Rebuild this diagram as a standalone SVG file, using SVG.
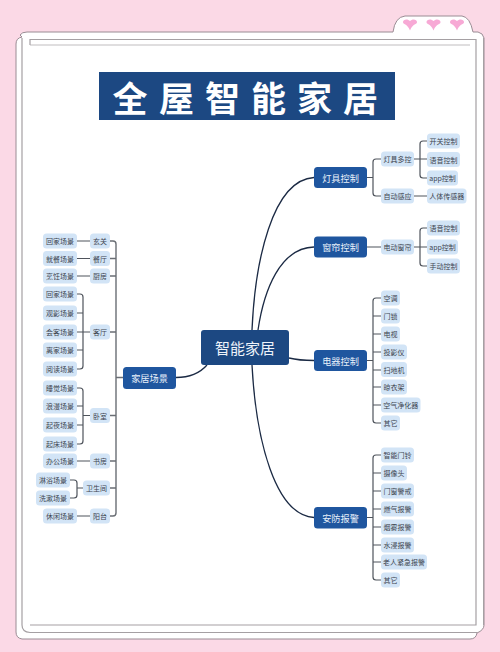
<svg xmlns="http://www.w3.org/2000/svg" width="500" height="652" viewBox="0 0 500 652">
<style>
text{font-family:"Noto Sans CJK SC","Liberation Sans",sans-serif;text-anchor:middle;dominant-baseline:central}
.frame{fill:#fff;stroke:#9a8c94;stroke-width:1}
.inner{fill:none;stroke:#a5a0a3;stroke-width:1.2}
.leaf rect{fill:#d2e4f6}
.leaf text{font-size:7px;fill:#3d4450}
.main rect{fill:#1f569f}
.main text{font-size:9.2px;fill:#e8f0fa}
.curve{fill:none;stroke:#1b2a44;stroke-width:1.3}
.line{fill:none;stroke:#4f545c;stroke-width:1.2;stroke-linecap:round}
.trunk{stroke:#6a6e74;stroke-width:1.4}
.heart{fill:#f7a9d5}
</style>
<defs><path id="h" d="M0 5.5C-3-2-7 0-7-3-7-6-2-6.500 0-4 2-6.500 7-6 7-3 7 0 3-2 0 5.500Z"/></defs>
<rect width="500" height="652" fill="#fbd9e6"/>
<g id="frame">
<path class="frame" d="M20 35Q22 32 27 32H393Q395 17 405 16H462Q470 17 473 32H478Q483 33 484 38V625Q484 630 477 633Q476 639 470 639H22Q16 638 16 632V44Q16 38 22 37Z"/>
<path class="inner" d="M22 38V625Q22 632 30 632.500H477"/>
<rect x="30" y="39.500" width="446" height="85.500" fill="none" stroke="none"/>
<path class="inner" d="M30 45V39.500H476V625H30"/>
<path d="M30 45H470" fill="none" stroke="#b0acae" stroke-width=".8"/>
<path d="M483.500 38V625" fill="none" stroke="#a5a0a3" stroke-width="1"/>
<use href="#h" class="heart" x="410" y="25"/><use href="#h" class="heart" x="433.500" y="25"/><use href="#h" class="heart" x="457" y="25"/>
</g>
<g id="title"><rect x="99" y="72" width="296" height="48" fill="#1c4882"/>
<text y="96" font-size="35" font-weight="700" fill="#fff"><tspan x="130">全</tspan><tspan x="176.500">屋</tspan><tspan x="222.500">智</tspan><tspan x="268.500">能</tspan><tspan x="314.500">家</tspan><tspan x="360.500">居</tspan></text></g>
<g id="connectors">
<path class="curve" d="M252 330C255 262 272 180 314 177.500"/>
<path class="curve" d="M258 330C264 290 280 248 314 247"/>
<path class="curve" d="M289 358C297 360 304 360.500 314 360.500"/>
<path class="curve" d="M252 365C256 440 275 515 314 517.500"/>
<path class="curve" d="M207 365C200 373 190 377.500 176 377.500"/>
<path class="line trunk" d="M110 241H113Q116 241 116 244V513Q116 516 113 516H110M110 258.500H116M110 276H116M110 332H116M110 415.500H116M110 461H116M110 488H116M116 377.500H123"/>
<path class="line" d="M77 241H90M77 258.500H90M77 276H90M77 332H90M77 461H90M77 516H90"/>
<path class="line" d="M77 294H80Q83 294 83 297V366Q83 369 80 369H77M77 313H83M77 350H83"/>
<path class="line" d="M77 388H80Q83 388 83 391V441Q83 444 80 444H77M77 406H83M77 425H83M83 415.500H90"/>
<path class="line" d="M70 480H74Q77 480 77 483V495Q77 498 74 498H70M77 488H83"/>
<path class="line" d="M367 177.500H373M381 159H376Q373 159 373 162V193Q373 196 376 196H381"/>
<path class="line" d="M414 159H427M427 141H423Q420 141 420 144V175Q420 178 423 178H427M414 196H427"/>
<path class="line" d="M367 247H381M414 247H427M427 228H423Q420 228 420 231V263Q420 266 423 266H427"/>
<path class="line" d="M367 360.500H373M381 298H376Q373 298 373 301V420Q373 423 376 423H381M373 316H381M373 334H381M373 352H381M373 370H381M373 387H381M373 405H381"/>
<path class="line" d="M367 517.500H373M381 455H376Q373 455 373 458V577Q373 580 376 580H381M373 473H381M373 491H381M373 509H381M373 527H381M373 545H381M373 562H381"/>
</g>
<g id="center"><rect x="201" y="330" width="88" height="35" rx="3" fill="#1c4882"/><text x="245" y="347" font-size="15" fill="#eef3fa">智能家居</text></g>
<g id="n-light" class="main"><rect x="314" y="167" width="53" height="21" rx="3.500"/><text x="340.500" y="177.500">灯具控制</text></g>
<g id="n-curtain" class="main"><rect x="314" y="236.500" width="53" height="21" rx="3.500"/><text x="340.500" y="247">窗帘控制</text></g>
<g id="n-appliance" class="main"><rect x="314" y="350" width="53" height="21" rx="3.500"/><text x="340.500" y="360.500">电器控制</text></g>
<g id="n-security" class="main"><rect x="314" y="507" width="53" height="21.500" rx="3.500"/><text x="340.500" y="517.500">安防报警</text></g>
<g id="n-home" class="main"><rect x="123" y="367" width="53" height="22" rx="3.500"/><text x="149.500" y="378">家居场景</text></g>
<g id="r1" class="leaf"><rect x="381" y="151.500" width="33" height="15" rx="3.500"/><text x="397.500" y="159">灯具多控</text></g>
<g id="r2" class="leaf"><rect x="381" y="188.500" width="33" height="15" rx="3.500"/><text x="397.500" y="196">自动感应</text></g>
<g id="r3" class="leaf"><rect x="381" y="239.500" width="33" height="15" rx="3.500"/><text x="397.500" y="247">电动窗帘</text></g>
<g id="r4" class="leaf"><rect x="427" y="133.500" width="33" height="15" rx="3.500"/><text x="443.500" y="141">开关控制</text></g>
<g id="r5" class="leaf"><rect x="427" y="152" width="33" height="15" rx="3.500"/><text x="443.500" y="159.500">语音控制</text></g>
<g id="r6" class="leaf"><rect x="427" y="170.500" width="31" height="15" rx="3.500"/><text x="442.500" y="178">app控制</text></g>
<g id="r7" class="leaf"><rect x="427" y="188.500" width="39.500" height="15" rx="3.500"/><text x="446.700" y="196">人体传感器</text></g>
<g id="r8" class="leaf"><rect x="427" y="220.500" width="33" height="15" rx="3.500"/><text x="443.500" y="228">语音控制</text></g>
<g id="r9" class="leaf"><rect x="427" y="239.500" width="31" height="15" rx="3.500"/><text x="442.500" y="247">app控制</text></g>
<g id="r10" class="leaf"><rect x="427" y="258.500" width="33" height="15" rx="3.500"/><text x="443.500" y="266">手动控制</text></g>
<g id="a1" class="leaf"><rect x="381" y="290.500" width="19" height="15" rx="3.500"/><text x="390.500" y="298">空调</text></g>
<g id="a2" class="leaf"><rect x="381" y="308.500" width="19" height="15" rx="3.500"/><text x="390.500" y="316">门锁</text></g>
<g id="a3" class="leaf"><rect x="381" y="326.500" width="19" height="15" rx="3.500"/><text x="390.500" y="334">电视</text></g>
<g id="a4" class="leaf"><rect x="381" y="344.500" width="26" height="15" rx="3.500"/><text x="394" y="352">投影仪</text></g>
<g id="a5" class="leaf"><rect x="381" y="362" width="26" height="15" rx="3.500"/><text x="394" y="369.500">扫地机</text></g>
<g id="a6" class="leaf"><rect x="381" y="379.500" width="26" height="15" rx="3.500"/><text x="394" y="387">晾衣架</text></g>
<g id="a7" class="leaf"><rect x="381" y="397.500" width="39.500" height="15" rx="3.500"/><text x="400.700" y="405">空气净化器</text></g>
<g id="a8" class="leaf"><rect x="381" y="415.500" width="19" height="15" rx="3.500"/><text x="390.500" y="423">其它</text></g>
<g id="s1" class="leaf"><rect x="381" y="447.500" width="33" height="15" rx="3.500"/><text x="397.500" y="455">智能门铃</text></g>
<g id="s2" class="leaf"><rect x="381" y="465.500" width="26" height="15" rx="3.500"/><text x="394" y="473">摄像头</text></g>
<g id="s3" class="leaf"><rect x="381" y="483.500" width="33" height="15" rx="3.500"/><text x="397.500" y="491">门窗警戒</text></g>
<g id="s4" class="leaf"><rect x="381" y="501.500" width="33" height="15" rx="3.500"/><text x="397.500" y="509">燃气报警</text></g>
<g id="s5" class="leaf"><rect x="381" y="519.500" width="33" height="15" rx="3.500"/><text x="397.500" y="527">烟雾报警</text></g>
<g id="s6" class="leaf"><rect x="381" y="537.500" width="33" height="15" rx="3.500"/><text x="397.500" y="545">水浸报警</text></g>
<g id="s7" class="leaf"><rect x="381" y="554.500" width="46" height="15" rx="3.500"/><text x="404" y="562">老人紧急报警</text></g>
<g id="s8" class="leaf"><rect x="381" y="572.500" width="19" height="15" rx="3.500"/><text x="390.500" y="580">其它</text></g>
<g id="l1" class="leaf"><rect x="90" y="233.500" width="20" height="15" rx="3.500"/><text x="100" y="241">玄关</text></g>
<g id="l2" class="leaf"><rect x="90" y="251" width="20" height="15" rx="3.500"/><text x="100" y="258.500">餐厅</text></g>
<g id="l3" class="leaf"><rect x="90" y="268.500" width="20" height="15" rx="3.500"/><text x="100" y="276">厨房</text></g>
<g id="l4" class="leaf"><rect x="90" y="324.500" width="20" height="15" rx="3.500"/><text x="100" y="332">客厅</text></g>
<g id="l5" class="leaf"><rect x="90" y="408" width="20" height="15" rx="3.500"/><text x="100" y="415.500">卧室</text></g>
<g id="l6" class="leaf"><rect x="90" y="453.500" width="20" height="15" rx="3.500"/><text x="100" y="461">书房</text></g>
<g id="l7" class="leaf"><rect x="83" y="480.500" width="27" height="15" rx="3.500"/><text x="96.500" y="488">卫生间</text></g>
<g id="l8" class="leaf"><rect x="90" y="508.500" width="20" height="15" rx="3.500"/><text x="100" y="516">阳台</text></g>
<g id="m1" class="leaf"><rect x="43" y="233.500" width="34" height="15" rx="3.500"/><text x="60" y="241">回家场景</text></g>
<g id="m2" class="leaf"><rect x="43" y="251" width="34" height="15" rx="3.500"/><text x="60" y="258.500">就餐场景</text></g>
<g id="m3" class="leaf"><rect x="43" y="268.500" width="34" height="15" rx="3.500"/><text x="60" y="276">烹饪场景</text></g>
<g id="m4" class="leaf"><rect x="43" y="286.500" width="34" height="15" rx="3.500"/><text x="60" y="294">回家场景</text></g>
<g id="m5" class="leaf"><rect x="43" y="305.500" width="34" height="15" rx="3.500"/><text x="60" y="313">观影场景</text></g>
<g id="m6" class="leaf"><rect x="43" y="324.500" width="34" height="15" rx="3.500"/><text x="60" y="332">会客场景</text></g>
<g id="m7" class="leaf"><rect x="43" y="342.500" width="34" height="15" rx="3.500"/><text x="60" y="350">离家场景</text></g>
<g id="m8" class="leaf"><rect x="43" y="361.500" width="34" height="15" rx="3.500"/><text x="60" y="369">阅读场景</text></g>
<g id="m9" class="leaf"><rect x="43" y="380.500" width="34" height="15" rx="3.500"/><text x="60" y="388">睡觉场景</text></g>
<g id="m10" class="leaf"><rect x="43" y="398.500" width="34" height="15" rx="3.500"/><text x="60" y="406">浪漫场景</text></g>
<g id="m11" class="leaf"><rect x="43" y="417.500" width="34" height="15" rx="3.500"/><text x="60" y="425">起夜场景</text></g>
<g id="m12" class="leaf"><rect x="43" y="436.500" width="34" height="15" rx="3.500"/><text x="60" y="444">起床场景</text></g>
<g id="m13" class="leaf"><rect x="43" y="453.500" width="34" height="15" rx="3.500"/><text x="60" y="461">办公场景</text></g>
<g id="m14" class="leaf"><rect x="36" y="472.500" width="34" height="15" rx="3.500"/><text x="53" y="480">淋浴场景</text></g>
<g id="m15" class="leaf"><rect x="36" y="490.500" width="34" height="15" rx="3.500"/><text x="53" y="498">洗漱场景</text></g>
<g id="m16" class="leaf"><rect x="43" y="508.500" width="34" height="15" rx="3.500"/><text x="60" y="516">休闲场景</text></g>
</svg>
